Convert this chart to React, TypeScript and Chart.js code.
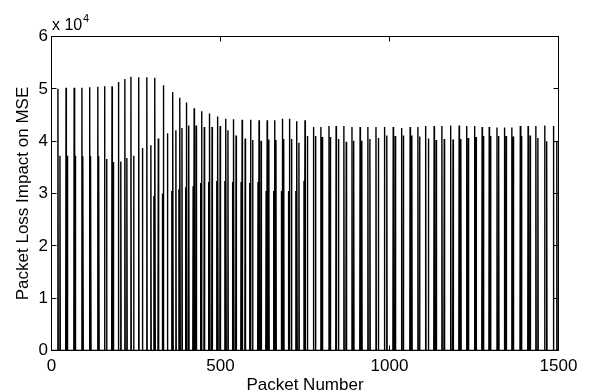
import React, { useEffect, useRef } from 'react';
import { Chart, registerables } from 'chart.js';

Chart.register(...registerables);

// Axis ranges / ticks (y in units of 10^4)
const X_MIN = 0;
const X_MAX = 1500;
const Y_MIN = 0;
const Y_MAX = 6;
const xTicks = [0, 500, 1000, 1500];
const yTicks = [0, 1, 2, 3, 4, 5, 6];

// Tall spikes (packet number, impact x10^4)
const tallPos = [19, 43, 67, 90, 113, 137, 157, 179, 198, 217, 235, 258, 282, 306, 331, 359, 380, 400, 422, 444,
  468, 492, 516, 539, 564, 589, 614, 638, 660, 683, 704, 726, 750, 775, 797, 821, 842, 865, 889, 913,
  936, 960, 985, 1011, 1036, 1061, 1084, 1107, 1132, 1155, 1181, 1206, 1228, 1252, 1274, 1295, 1318, 1340, 1362, 1387,
  1410, 1433, 1459, 1485];
const tallVal = [5.00, 5.02, 5.02, 5.02, 5.03, 5.04, 5.05, 5.05, 5.13, 5.19, 5.23, 5.22, 5.22, 5.21, 5.07, 4.94, 4.83, 4.74, 4.63, 4.57,
  4.53, 4.47, 4.43, 4.42, 4.41, 4.41, 4.40, 4.40, 4.40, 4.43, 4.43, 4.38, 4.40, 4.27, 4.27, 4.29, 4.29, 4.29, 4.27, 4.27,
  4.27, 4.27, 4.27, 4.27, 4.25, 4.27, 4.27, 4.29, 4.29, 4.29, 4.30, 4.30, 4.29, 4.29, 4.27, 4.27, 4.26, 4.26, 4.26, 4.29,
  4.29, 4.29, 4.30, 4.29];

// Shorter spikes following each tall spike
const shortPos = [25, 47, 70, 93, 116, 140, 163, 183, 205, 223, 243, 269, 294, 316, 343, 368, 386, 406, 428, 452,
  475, 499, 522, 546, 573, 595, 620, 643, 664, 687, 710, 732, 757, 781, 801, 825, 849, 872, 894, 918,
  942, 967, 992, 1017, 1041, 1066, 1089, 1115, 1138, 1162, 1188, 1211, 1233, 1256, 1278, 1299, 1323, 1345, 1366, 1390,
  1416, 1439, 1465, 1495];
const shortVal = [3.72, 3.72, 3.72, 3.71, 3.71, 3.71, 3.66, 3.60, 3.61, 3.68, 3.72, 3.87, 3.92, 4.05, 4.15, 4.21, 4.25, 4.30, 4.30, 4.27,
  4.27, 4.29, 4.21, 4.11, 4.05, 4.02, 4.01, 4.03, 4.02, 4.04, 4.04, 3.97, 4.10, 4.10, 4.08, 4.08, 4.04, 3.99, 4.01, 4.01,
  4.04, 4.06, 4.11, 4.10, 4.11, 4.11, 4.09, 4.05, 4.02, 4.04, 4.03, 4.04, 4.06, 4.08, 4.10, 4.10, 4.10, 4.10, 4.09, 4.10,
  4.11, 4.06, 4.00, 4.00];

// Medium spikes just before some tall spikes
const midPos = [303, 328, 356, 377, 397, 419, 441, 465, 489, 513, 536, 561, 586, 611, 635, 657, 680, 701, 723, 747];
const midVal = [2.95, 3.00, 3.05, 3.08, 3.12, 3.14, 3.20, 3.22, 3.24, 3.24, 3.22, 3.22, 3.20, 3.22, 3.05, 3.05, 3.05, 3.05, 3.05, 3.24];

const FONT = 'Liberation Sans, Arial, Helvetica, sans-serif';

export default function App() {
  const ref = useRef<HTMLCanvasElement>(null);

  useEffect(() => {
    if (!ref.current) return;
    const spikes: { x: number; y: number }[] = [];
    tallPos.forEach((p, i) => spikes.push({ x: p, y: tallVal[i] }));
    shortPos.forEach((p, i) => spikes.push({ x: p, y: shortVal[i] }));
    midPos.forEach((p, i) => spikes.push({ x: p, y: midVal[i] }));
    spikes.sort((a, b) => a.x - b.x);
    const pts: { x: number; y: number }[] = [{ x: 1, y: 0 }];
    for (const s of spikes) {
      pts.push({ x: s.x - 1, y: 0 }, { x: s.x, y: s.y }, { x: s.x + 1, y: 0 });
    }
    pts.push({ x: X_MAX, y: 0 });

    const frame = {
      id: 'frame',
      afterDraw(chart: any) {
        const { ctx, chartArea: a, scales } = chart;
        const xs = scales.x;
        const ys = scales.y;
        ctx.save();
        ctx.strokeStyle = '#000';
        ctx.lineWidth = 1;
        ctx.strokeRect(a.left, a.top, a.right - a.left, a.bottom - a.top);
        const tl = 5;
        ctx.beginPath();
        for (const v of xTicks) {
          const px = Math.round(xs.getPixelForValue(v) - 0.5) + 0.5;
          ctx.moveTo(px, a.bottom); ctx.lineTo(px, a.bottom - tl);
          ctx.moveTo(px, a.top); ctx.lineTo(px, a.top + tl);
        }
        for (const v of yTicks) {
          const py = Math.round(ys.getPixelForValue(v) - 0.5) + 0.5;
          ctx.moveTo(a.left, py); ctx.lineTo(a.left + tl, py);
          ctx.moveTo(a.right, py); ctx.lineTo(a.right - tl, py);
        }
        ctx.stroke();

        ctx.fillStyle = '#000';
        // x title
        ctx.font = `17px ${FONT}`;
        ctx.textAlign = 'center';
        ctx.textBaseline = 'alphabetic';
        ctx.fillText('Packet Number', (a.left + a.right) / 2, 390);
        // y title
        ctx.save();
        ctx.translate(28, (a.top + a.bottom) / 2);
        ctx.rotate(-Math.PI / 2);
        ctx.fillText('Packet Loss Impact on MSE', 0, 0);
        ctx.restore();
        // multiplier
        ctx.textAlign = 'left';
        ctx.font = `16px ${FONT}`;
        ctx.fillText('x 10', 52, 29.5);
        ctx.font = `11px ${FONT}`;
        ctx.fillText('4', 83, 21.5);
        ctx.restore();
      },
    };

    const chart = new Chart(ref.current, {
      type: 'line',
      data: {
        datasets: [{
          data: pts,
          borderColor: '#000',
          borderWidth: 1.4,
          pointRadius: 0,
          tension: 0,
          fill: false,
        }],
      },
      options: {
        animation: false,
        responsive: false,
        layout: { padding: { top: 36.5, right: 31.5, left: 0, bottom: 0 } },
        plugins: { legend: { display: false }, tooltip: { enabled: false } },
        scales: {
          x: {
            type: 'linear',
            min: X_MIN,
            max: X_MAX,
            grid: { display: false, drawTicks: false },
            border: { display: false },
            afterBuildTicks: (s: any) => { s.ticks = xTicks.map((v) => ({ value: v })); },
            afterFit: (s: any) => { s.height = 41.5; },
            ticks: {
              autoSkip: false, maxRotation: 0, padding: 6, color: '#000',
              font: { family: FONT, size: 17 },
              callback: (v: any) => String(v),
            },
          },
          y: {
            type: 'linear',
            min: Y_MIN,
            max: Y_MAX,
            grid: { display: false, drawTicks: false },
            border: { display: false },
            afterBuildTicks: (s: any) => { s.ticks = yTicks.map((v) => ({ value: v })); },
            afterFit: (s: any) => { s.width = 51.5; },
            ticks: {
              padding: 3.5, color: '#000',
              font: { family: FONT, size: 17 },
              callback: (v: any) => String(v),
            },
          },
        },
      },
      plugins: [frame],
    });
    return () => chart.destroy();
  }, []);

  return (
    <div style={{ position: 'absolute', left: 0, top: 0, width: 590, height: 392, background: '#fff' }}>
      <canvas ref={ref} width={590} height={392} style={{ display: 'block' }} />
    </div>
  );
}
